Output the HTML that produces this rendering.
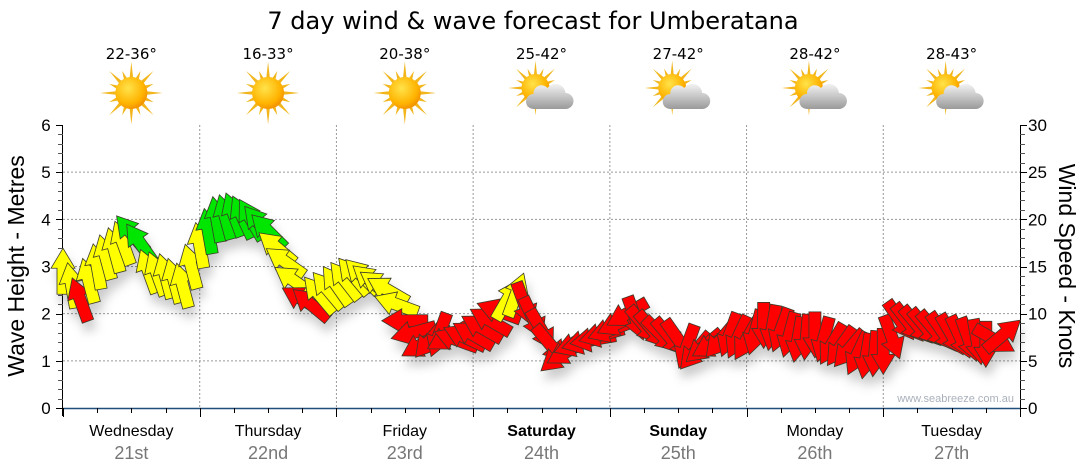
<!DOCTYPE html>
<html><head><meta charset="utf-8"><style>
html,body{margin:0;padding:0;background:#fff;}
svg{display:block;}
</style></head><body>
<svg id="chart" width="1080" height="475" viewBox="0 0 1080 475" xmlns="http://www.w3.org/2000/svg">
<defs>
<filter id="sh" x="-30%" y="-30%" width="160%" height="180%"><feDropShadow dx="3" dy="9" stdDeviation="5" flood-color="#000" flood-opacity="0.2"/></filter>
<radialGradient id="sunG" cx="0.4" cy="0.35" r="0.7"><stop offset="0" stop-color="#ffe34a"/><stop offset="0.7" stop-color="#ffb300"/><stop offset="1" stop-color="#f08a00"/></radialGradient>
<linearGradient id="cloudG" x1="0" y1="0" x2="0" y2="1"><stop offset="0" stop-color="#f2f2f2"/><stop offset="1" stop-color="#9a9a9a"/></linearGradient>
</defs>
<text x="533" y="29" text-anchor="middle" font-family="DejaVu Sans, sans-serif" font-size="24" fill="#000">7 day wind &amp; wave forecast for Umberatana</text>
<g id="grid"></g>
<g id="axes"></g>
<g id="weather"></g>
<g id="series"></g>
<text transform="translate(24,266) rotate(-90)" text-anchor="middle" font-family="Liberation Sans, sans-serif" font-size="23" fill="#000">Wave Height - Metres</text>
<text transform="translate(1059,266) rotate(90)" text-anchor="middle" font-family="Liberation Sans, sans-serif" font-size="23" fill="#000">Wind Speed - Knots</text>
<text x="1014" y="402" text-anchor="end" font-family="Liberation Sans, sans-serif" font-size="11" fill="#a9b0bb">www.seabreeze.com.au</text>
</svg>
<script>
const dayNames = ["Wednesday","Thursday","Friday","Saturday","Sunday","Monday","Tuesday"];
const dayDates = ["21st","22nd","23rd","24th","25th","26th","27th"];
const dayBold = [false,false,false,true,true,false,false];
const temps = ["22-36°","16-33°","20-38°","25-42°","27-42°","28-42°","28-43°"];
const icons = ["sun","sun","sun","cloud","cloud","cloud","cloud"];
const leftTicks = [0,1,2,3,4,5,6];
const rightTicks = [0,5,10,15,20,25,30];
const hours = [0,3,6,9,12,15,18,21,24,27,30,33,36,39,42,45,48,51,54,57,60,63,66,69,72,75,78,81,84,87,90,93,96,99,102,105,108,111,114,117,120,123,126,129,132,135,138,141,144,147,150,153,156,159,162,165];
const waveHeight = [2.9,2.3,3.0,3.35,3.7,2.9,2.8,2.6,3.45,4.0,4.1,4.0,3.75,3.1,2.3,2.4,2.6,2.8,2.7,2.5,1.85,1.35,1.55,1.45,1.55,1.85,2.3,2.2,1.65,1.1,1.35,1.45,1.65,2.0,1.75,1.55,1.45,1.2,1.35,1.55,1.45,1.75,1.65,1.45,1.55,1.35,1.25,1.1,1.2,1.85,1.75,1.65,1.55,1.45,1.35,1.55];
const windDir = [0,340,350,345,320,340,345,345,350,350,340,330,315,305,300,320,325,320,310,300,270,240,200,290,300,300,30,160,150,230,250,260,250,240,140,135,145,220,240,200,210,180,200,190,180,210,220,190,180,145,140,140,150,160,180,50];
const windClass = ["y","r","y","y","g","y","y","y","y","g","g","g","g","y","r","y","y","y","y","y","r","r","r","r","r","r","y","r","r","r","r","r","r","r","r","r","r","r","r","r","r","r","r","r","r","r","r","r","r","r","r","r","r","r","r","r"];
const hoursMid = [1.5,4.5,7.5,10.5,13.5,16.5,19.5,22.5,25.5,28.5,31.5,34.5,37.5,40.5,43.5,46.5,49.5,52.5,55.5,58.5,61.5,64.5,67.5,70.5,73.5,76.5,79.5,82.5,85.5,88.5,91.5,94.5,97.5,100.5,103.5,106.5,109.5,112.5,115.5,118.5,121.5,124.5,127.5,130.5,133.5,136.5,139.5,142.5,145.5,148.5,151.5,154.5,157.5,160.5,163.5];
const waveHeightMid = [2.6,2.7,3.2,3.5,3.5,2.85,2.7,3.0,3.75,4.05,4.05,3.9,3.4,2.7,2.2,2.5,2.7,2.8,2.6,2.2,1.6,1.45,1.5,1.5,1.7,2.05,2.4,1.9,1.35,1.2,1.4,1.55,1.8,1.9,1.65,1.5,1.3,1.3,1.45,1.5,1.6,1.7,1.55,1.5,1.45,1.3,1.15,1.15,1.5,1.8,1.7,1.6,1.5,1.4,1.45];
const windDirMid = [350,345,345,340,325,340,345,345,350,345,335,320,310,305,310,320,322,315,305,290,255,220,240,295,300,290,20,155,140,240,255,255,245,160,140,140,200,230,220,205,195,190,195,185,195,215,205,185,160,142,140,145,155,170,120];
const windClassMid = ["y","y","y","y","g","y","y","y","g","g","g","g","y","y","r","y","y","y","y","y","r","r","r","r","r","r","y","r","r","r","r","r","r","r","r","r","r","r","r","r","r","r","r","r","r","r","r","r","r","r","r","r","r","r","r"];

const NS="http://www.w3.org/2000/svg";
const X0=63, X1=1020, YB=408, YT=125, DAYW=(X1-X0)/7;
const xAt = h => X0 + h/24*DAYW;
const yL = v => YB - v/6*(YB-YT);
const yR = v => YB - v/30*(YB-YT);
function mk(tag, attrs, parent){const e=document.createElementNS(NS,tag);for(const k in attrs)e.setAttribute(k,attrs[k]);parent.appendChild(e);return e;}
const grid=document.getElementById('grid'), axes=document.getElementById('axes'), weather=document.getElementById('weather'), series=document.getElementById('series');

for(let v=1; v<=5; v++){const l=mk('line',{x1:X0,x2:X1,y1:yL(v),y2:yL(v),stroke:'#999','stroke-width':1,'stroke-dasharray':'2,2'},grid);

}
for(let d=1; d<7; d++){const l=mk('line',{x1:X0+d*DAYW,x2:X0+d*DAYW,y1:YT,y2:YB,stroke:'#999','stroke-width':1,'stroke-dasharray':'2,2'},grid);

}

mk('line',{x1:X0-0.5,x2:X0-0.5,y1:YT,y2:YB+8,stroke:'#000','stroke-width':1},axes);
mk('line',{x1:X1+0.5,x2:X1+0.5,y1:YT,y2:YB,stroke:'#000','stroke-width':1},axes);
mk('line',{x1:X0,x2:X1,y1:YB+0.5,y2:YB+0.5,stroke:'#1f4f7a','stroke-width':1.5},axes);
for(let i=0;i<=30;i++){const v=i/5, y=Math.round(yL(v))+0.5, major=i%5===0;
 mk('line',{x1:X0-(major?7:5),x2:X0,y1:y,y2:y,stroke:major?'#000':'#555','stroke-width':1},axes);}
leftTicks.forEach(v=>{const t=mk('text',{x:46,y:yL(v)+6,'text-anchor':'middle','font-family':'Liberation Sans, sans-serif','font-size':17,fill:'#000'},axes);t.textContent=v;

});
for(let i=0;i<=30;i++){const y=Math.round(yR(i))+0.5, major=i%5===0;
 mk('line',{x1:X1,x2:X1+(major?7:5),y1:y,y2:y,stroke:major?'#000':'#555','stroke-width':1},axes);}
rightTicks.forEach(v=>{const t=mk('text',{x:1028,y:yR(v)+6,'text-anchor':'start','font-family':'Liberation Sans, sans-serif','font-size':17,fill:'#000'},axes);t.textContent=v;

});
for(let q=0;q<=28;q++){const x=Math.round(X0+q*DAYW/4)+0.5, major=q%4===0;
 mk('line',{x1:x,x2:x,y1:YB,y2:YB+(major?9:5),stroke:'#000','stroke-width':1},axes);}
dayNames.forEach((n,i)=>{const cx=X0+(i+0.5)*DAYW;
 const t=mk('text',{x:cx,y:436,'text-anchor':'middle','font-family':'Liberation Sans, sans-serif','font-size':16,'font-weight':dayBold[i]?'bold':'normal',fill:'#000'},axes);t.textContent=n;
 
 
 const d=mk('text',{x:cx,y:459,'text-anchor':'middle','font-family':'Liberation Sans, sans-serif','font-size':18,fill:'#777'},axes);d.textContent=dayDates[i];
 
 });

function sun(g,cx,cy,r){for(let k=0;k<16;k++){const a=k*Math.PI/8, L=(k%2?r*1.5:r*1.95);
 const p1=[cx+Math.cos(a-0.13)*r*0.9,cy+Math.sin(a-0.13)*r*0.9],p2=[cx+Math.cos(a)*L,cy+Math.sin(a)*L],p3=[cx+Math.cos(a+0.13)*r*0.9,cy+Math.sin(a+0.13)*r*0.9];
 mk('polygon',{points:[p1,p2,p3].map(p=>p.join(',')).join(' '),fill:'#f2b61c'},g);}
 mk('circle',{cx,cy,r,fill:'url(#sunG)'},g);}
temps.forEach((tp,i)=>{const cx=X0+(i+0.5)*DAYW;
 const t=mk('text',{x:cx,y:59,'text-anchor':'middle','font-family':'DejaVu Sans, sans-serif','font-size':15,fill:'#000'},weather);t.textContent=tp;
 
 
 const g=mk('g',{},weather);
 
 
 if(icons[i]==='sun'){sun(g,cx,93,16);}
 else{sun(g,cx-6,88,14);
  mk('path',{d:`M${cx-8},${109} h32 a8,8 0 0 0 0,-16 a10,10 0 0 0 -18,-5 a8,8 0 0 0 -14,6 a7.5,7.5 0 0 0 0,15 z`,fill:'url(#cloudG)'},g);}
});

// merge main and mid samples, ordered by hour
const allIdx=[];
hours.forEach((h,i)=>allIdx.push({h:h,w:waveHeight[i],d:windDir[i],c:windClass[i]}));
hoursMid.forEach((h,i)=>allIdx.push({h:h,w:waveHeightMid[i],d:windDirMid[i],c:windClassMid[i]}));
allIdx.sort((a,b)=>a.h-b.h);

const pts=allIdx.map(p=>xAt(p.h)+','+yL(p.w)).join(' ');
const wl=mk('polyline',{points:pts,fill:'none',stroke:'#999','stroke-width':1},series);


const colors={y:'#ffff00',g:'#00e600',r:'#ff0000'};
const ag=mk('g',{filter:'url(#sh)'},series);
const arrowPath='M0,-23 L12,-3 L6,-3 L6,23 L-6,23 L-6,-3 L-12,-3 Z';
allIdx.forEach(p=>{const a=mk('path',{d:arrowPath,fill:colors[p.c],stroke:'#3a3a2a','stroke-width':0.8,'stroke-linejoin':'miter',
 transform:`translate(${xAt(p.h)},${yL(p.w)}) rotate(${p.d})`},ag);
 
 });
</script>
</body></html>
